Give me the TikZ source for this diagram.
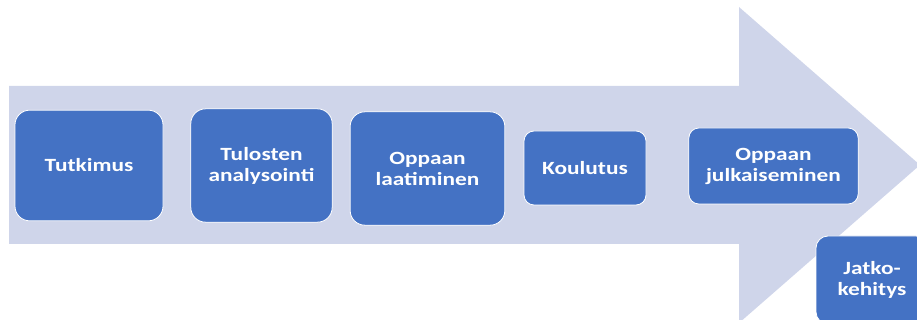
\documentclass[tikz,border=0pt]{standalone}
\usepackage{fontspec}
\newfontfamily\vaihefont{Carlito}[FakeStretch=1.25]
\definecolor{nuoli}{HTML}{CFD5EA}
\definecolor{laatikko}{HTML}{4472C4}
\tikzset{
    vaihe/.style={draw=white, line width=0.6pt, fill=laatikko, text=white,
        align=center, inner sep=0pt, rounded corners=11pt,
        font=\vaihefont\bfseries\fontsize{14}{15.8}\selectfont}
}
\begin{document}
\begin{tikzpicture}[x=0.75pt, y=-0.75pt]
    \useasboundingbox (0,0) rectangle (917,320);
    \clip (0,0) rectangle (917,320);
    % the big arrow behind the steps
    \fill [color=nuoli] (9,86) -- (739,86) -- (739,7) -- (920,165)
        -- (739,323) -- (739,244) -- (9,244) -- cycle;

    \node[vaihe, minimum width=111pt, minimum height=83pt] (tutkimus) at (89,165.5) {Tutkimus};
    \node[vaihe, minimum width=106pt, minimum height=85pt] (analyysi) at (261.5,165.5) {Tulosten\\analysointi};
    \node[vaihe, minimum width=116pt, minimum height=85pt] (laatiminen) at (427.5,168.5) {Oppaan\\laatiminen};
    \node[vaihe, minimum width=91.5pt, minimum height=55.5pt, rounded corners=7.5pt] (koulutus) at (585,168) {Koulutus};
    \node[vaihe, minimum width=127pt, minimum height=57pt, rounded corners=7.5pt] (julkaisu) at (773.5,166) {Oppaan\\julkaiseminen};
    \node[vaihe, minimum width=84pt, minimum height=66pt, rounded corners=9pt] (jatko) at (872,280) {Jatko-\\kehitys};
\end{tikzpicture}
\end{document}
